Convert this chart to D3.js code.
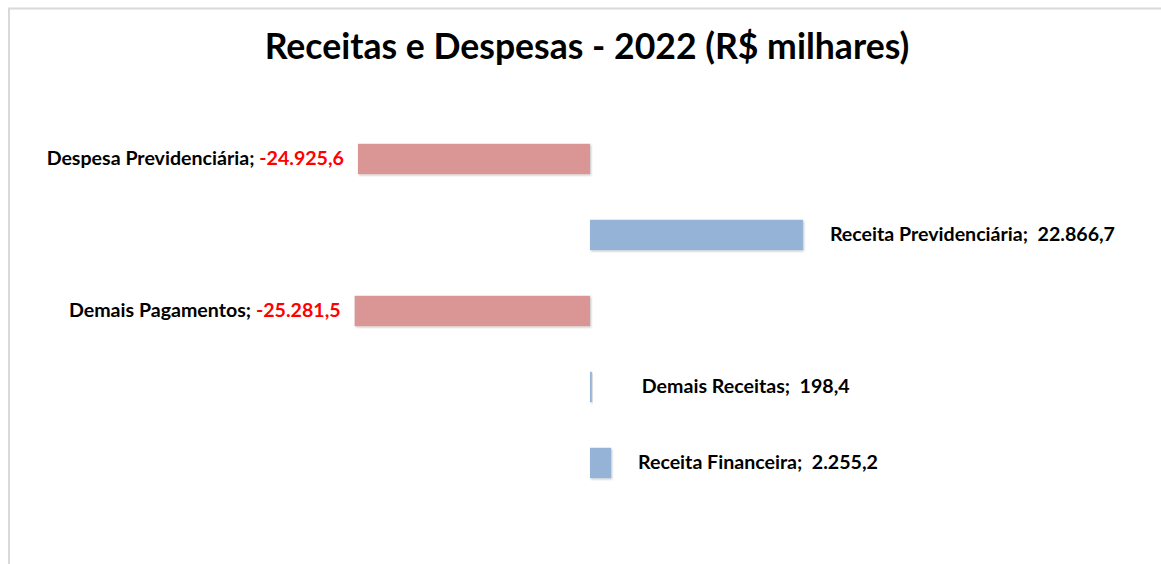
<!DOCTYPE html>
<html>
<head>
<meta charset="utf-8">
<script src="https://cdn.jsdelivr.net/npm/d3@7"></script>
<style>
    body { margin: 0; background: #fff; }
    text { font-family: Lato, "Open Sans", sans-serif; }
</style>
</head>
<body>
<div id="chart"></div>
<script>
const categorias = ["Despesa Previdenciária", "Receita Previdenciária", "Demais Pagamentos", "Demais Receitas", "Receita Financeira"];
const valores = [-24925.6, 22866.7, -25281.5, 198.4, 2255.2];
const rotulos = ["-24.925,6", "22.866,7", "-25.281,5", "198,4", "2.255,2"];
const titulo = "Receitas e Despesas - 2022 (R$ milhares)";

const width = 1161,
    height = 564,
    corNeg = "#d99694",
    corPos = "#95b3d7";

let svg = d3.select("#chart")
    .append("svg")
    .attr("width", width)
    .attr("height", height);

// sombra leve das barras
let defs = svg.append("defs");
let filtro = defs.append("filter").attr("id", "sombra")
    .attr("x", "-20%").attr("y", "-20%").attr("width", "140%").attr("height", "140%");
filtro.append("feDropShadow")
    .attr("dx", 1).attr("dy", 1).attr("stdDeviation", 1)
    .attr("flood-color", "#000").attr("flood-opacity", 0.25);

// borda da area do grafico
svg.append("rect")
    .attr("x", 9).attr("y", 8.5)
    .attr("width", width + 20).attr("height", height + 20)
    .attr("fill", "none")
    .attr("stroke", "#d9d9d9")
    .attr("stroke-width", 2);

svg.append("text")
    .attr("x", 587)
    .attr("y", 59)
    .attr("text-anchor", "middle")
    .style("font-size", "35.6px")
    .style("font-weight", "bold")
    .text(titulo);

let x = d3.scaleLinear()
    .domain([-30000, 30000])
    .range([590 - 279.3, 590 + 279.3]);

let y = d3.scaleBand()
    .domain(categorias)
    .range([121, 501])
    .paddingInner(0.6)
    .paddingOuter(0.3);

let linhas = categorias.map((c, i) => ({ cat: c, v: valores[i], rot: rotulos[i] }));

svg.selectAll("rect.barra")
    .data(linhas)
    .enter().append("rect")
    .attr("class", "barra")
    .attr("x", d => x(Math.min(0, d.v)))
    .attr("y", d => y(d.cat))
    .attr("width", d => Math.abs(x(d.v) - x(0)))
    .attr("height", y.bandwidth())
    .attr("fill", d => d.v < 0 ? corNeg : corPos)
    .attr("filter", "url(#sombra)");

// ajuste manual do rotulo "Demais Receitas" (como no original)
const desloc = { "Demais Receitas": 50 };

let rots = svg.selectAll("text.rotulo")
    .data(linhas)
    .enter().append("text")
    .attr("class", "rotulo")
    .attr("x", d => d.v < 0 ? x(d.v) - 14 : x(d.v) + (desloc[d.cat] || 27))
    .attr("y", d => y(d.cat) + y.bandwidth() / 2 + 6)
    .attr("text-anchor", d => d.v < 0 ? "end" : "start")
    .style("font-size", "19.6px")
    .style("font-weight", "bold");

rots.append("tspan").attr("fill", "#000").text(d => d.cat + ";" + (d.v < 0 ? " " : "\u00a0 "));
rots.append("tspan").attr("fill", d => d.v < 0 ? "#ff0000" : "#000").text(d => d.rot);
</script>
</body>
</html>
